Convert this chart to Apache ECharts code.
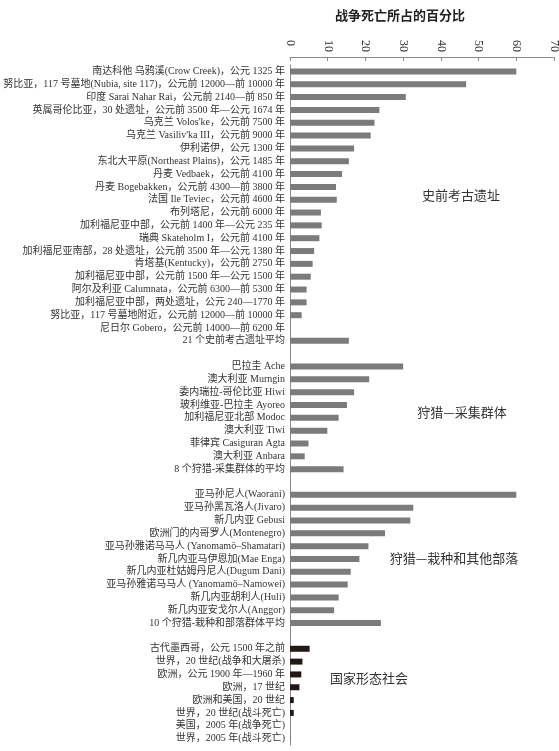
<!DOCTYPE html>
<html lang="zh">
<head>
    <meta charset="UTF-8">
    <title>战争死亡所占的百分比</title>
    <script src="https://cdn.jsdelivr.net/npm/echarts@6/dist/echarts.min.js"></script>
    <style>
        html, body { margin: 0; padding: 0; background: #fff; }
        #main { width: 559px; height: 751px; }
    </style>
</head>
<body>
<div id="main"></div>
<script type="text/javascript">
    // 数据：史前考古遗址
    const prehistoricNames = [
        '南达科他 乌鸦溪(Crow Creek)，公元 1325 年',
        '努比亚，117 号墓地(Nubia, site 117)，公元前 12000—前 10000 年',
        '印度 Sarai Nahar Rai，公元前 2140—前 850 年',
        '英属哥伦比亚，30 处遗址，公元前 3500 年—公元 1674 年',
        '乌克兰 Volos\'ke，公元前 7500 年',
        '乌克兰 Vasiliv\'ka III，公元前 9000 年',
        '伊利诺伊，公元 1300 年',
        '东北大平原(Northeast Plains)，公元 1485 年',
        '丹麦 Vedbaek，公元前 4100 年',
        '丹麦 Bogebakken，公元前 4300—前 3800 年',
        '法国 Ile Teviec，公元前 4600 年',
        '布列塔尼，公元前 6000 年',
        '加利福尼亚中部，公元前 1400 年—公元 235 年',
        '瑞典 Skateholm I，公元前 4100 年',
        '加利福尼亚南部，28 处遗址，公元前 3500 年—公元 1380 年',
        '肯塔基(Kentucky)，公元前 2750 年',
        '加利福尼亚中部，公元前 1500 年—公元 1500 年',
        '阿尔及利亚 Calumnata，公元前 6300—前 5300 年',
        '加利福尼亚中部，两处遗址，公元 240—1770 年',
        '努比亚，117 号墓地附近，公元前 12000—前 10000 年',
        '尼日尔 Gobero，公元前 14000—前 6200 年',
        '21 个史前考古遗址平均'
    ]
    const prehistoricValues = [60, 46.7, 30.7, 23.7, 22.4, 21.4, 17, 15.6, 13.8, 12.2, 12.4,
        8.2, 8.4, 7.8, 6.4, 6, 5.5, 4.4, 4.4, 3.1, 0, 15.6]

    // 狩猎—采集群体
    const hunterNames = [
        '巴拉圭 Ache',
        '澳大利亚 Murngin',
        '委内瑞拉-哥伦比亚 Hiwi',
        '玻利维亚-巴拉圭 Ayoreo',
        '加利福尼亚北部 Modoc',
        '澳大利亚 Tiwi',
        '菲律宾 Casiguran Agta',
        '澳大利亚 Anbara',
        '8 个狩猎-采集群体的平均'
    ]
    const hunterValues = [30, 21, 17, 15.1, 12.9, 9.9, 4.9, 3.9, 14.2]

    // 狩猎—栽种和其他部落
    const tribalNames = [
        '亚马孙尼人(Waorani)',
        '亚马孙黑瓦洛人(Jivaro)',
        '新几内亚 Gebusi',
        '欧洲门的内哥罗人(Montenegro)',
        '亚马孙雅诺马马人 (Yanomamö–Shamatari)',
        '新几内亚马伊恩加(Mae Enga)',
        '新几内亚杜姑姆丹尼人(Dugum Dani)',
        '亚马孙雅诺马马人 (Yanomamö–Namowei)',
        '新几内亚胡利人(Huli)',
        '新几内亚安戈尔人(Anggor)',
        '10 个狩猎-栽种和部落群体平均'
    ]
    const tribalValues = [60, 32.7, 31.9, 25.2, 20.8, 18.4, 16.1, 15.3, 12.9, 11.7, 24.1]

    // 国家形态社会
    const stateNames = [
        '古代墨西哥，公元 1500 年之前',
        '世界，20 世纪(战争和大屠杀)',
        '欧洲，公元 1900 年—1960 年',
        '欧洲，17 世纪',
        '欧洲和美国，20 世纪',
        '世界，20 世纪(战斗死亡)',
        '美国，2005 年(战争死亡)',
        '世界，2005 年(战斗死亡)'
    ]
    const stateValues = [5.2, 3.3, 3.0, 2.5, 1.0, 1.0, 0.008, 0.03]

    const xTicks = [0, 10, 20, 30, 40, 50, 60, 70]

    const GREY = '#7b7b7b'
    const DARK = '#231815'
    const FONT = "'Liberation Serif', 'Noto Sans CJK SC', serif"

    // 把各组拼成一根类目轴，组间留一行空白
    const groups = [
        [prehistoricNames, prehistoricValues, GREY],
        [hunterNames, hunterValues, GREY],
        [tribalNames, tribalValues, GREY],
        [stateNames, stateValues, DARK]
    ]
    let categories = []
    let barData = []
    groups.forEach(function (g, gi) {
        if (gi > 0) {
            categories.push(' '.repeat(gi))
            barData.push('-')
        }
        g[0].forEach(function (name, i) {
            categories.push(name)
            barData.push({ value: g[1][i], itemStyle: { color: g[2] } })
        })
    })

    let chart = echarts.init(document.getElementById('main'))
    let option = {
        backgroundColor: '#fff',
        animation: false,
        grid: { left: 290, right: 5, top: 65, bottom: 6, outerBoundsMode: 'none', containLabel: false },
        xAxis: {
            type: 'value',
            position: 'top',
            offset: 8,
            min: 0,
            max: 70,
            interval: 10,
            axisLine: { show: true, lineStyle: { color: '#8a8a8a', width: 1 } },
            axisTick: { show: true, inside: true, length: 4, lineStyle: { color: '#8a8a8a' } },
            splitLine: { show: false },
            axisLabel: {
                rotate: 90,
                align: 'left',
                verticalAlign: 'middle',
                margin: 17,
                fontSize: 12,
                color: '#333',
                fontFamily: FONT,
                hideOverlap: false,
                formatter: function (v) { return xTicks.indexOf(v) >= 0 ? String(v) : '' }
            }
        },
        yAxis: {
            type: 'category',
            inverse: true,
            data: categories,
            axisLine: { show: true, lineStyle: { color: '#8a8a8a', width: 1 } },
            axisTick: { show: false },
            axisLabel: {
                interval: 0,
                margin: 5,
                fontSize: 10,
                color: '#333',
                fontFamily: FONT
            }
        },
        series: [{
            type: 'bar',
            data: barData,
            barWidth: 6
        }],
        graphic: [
            {
                type: 'text', x: 400, y: 15,
                style: {
                    text: '战争死亡所占的百分比', fill: '#222',
                    font: "bold 13px 'Noto Sans CJK SC'", align: 'center', verticalAlign: 'middle'
                }
            },
            {
                type: 'text', x: 461, y: 195,
                style: { text: '史前考古遗址', fill: '#333', font: "13px 'Noto Sans CJK SC'", align: 'center', verticalAlign: 'middle' }
            },
            {
                type: 'text', x: 462, y: 412,
                style: { text: '狩猎—采集群体', fill: '#333', font: "13px 'Noto Sans CJK SC'", align: 'center', verticalAlign: 'middle' }
            },
            {
                type: 'text', x: 454, y: 558,
                style: { text: '狩猎—栽种和其他部落', fill: '#333', font: "13px 'Noto Sans CJK SC'", align: 'center', verticalAlign: 'middle' }
            },
            {
                type: 'text', x: 369, y: 678,
                style: { text: '国家形态社会', fill: '#333', font: "13px 'Noto Sans CJK SC'", align: 'center', verticalAlign: 'middle' }
            }
        ]
    }
    chart.setOption(option)
</script>
</body>
</html>
